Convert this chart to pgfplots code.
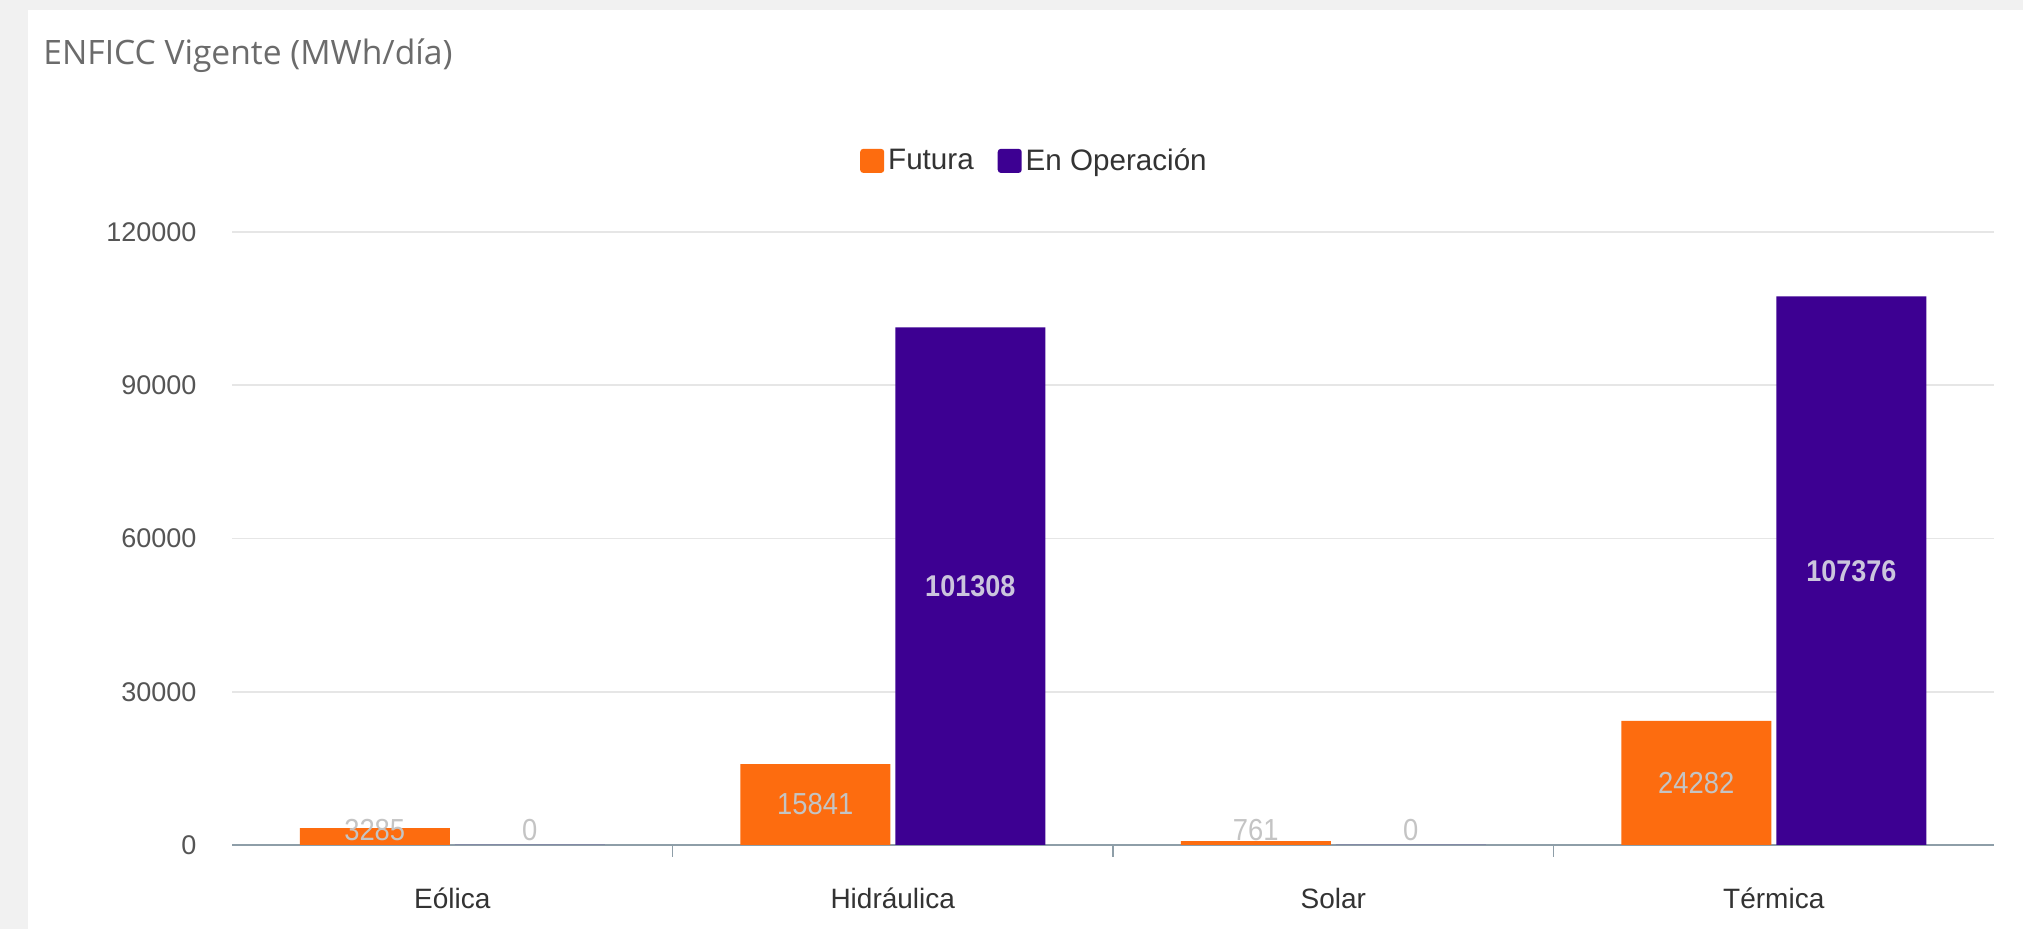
\documentclass[border=0pt]{standalone}
\usepackage{fontspec}
\setmainfont{Liberation Sans}
\newfontfamily\titlefont{Open Sans}
\newfontfamily\narrowfont[FakeStretch=0.9]{Liberation Sans}
\usepackage{pgfplots}
\pgfplotsset{compat=1.18}
\definecolor{bgc}{HTML}{F1F1F1}
\definecolor{orangeF}{HTML}{FD6C0F}
\definecolor{purpleO}{HTML}{3D0092}
\definecolor{gridc}{HTML}{E6E6E6}
\definecolor{axisc}{HTML}{8E9EA8}
\definecolor{labc}{HTML}{C4C4C4}
\definecolor{labp}{HTML}{CBC5DD}
\definecolor{txtc}{HTML}{333333}
\definecolor{tickc}{HTML}{555555}
\begin{document}
\begin{tikzpicture}
\fill[bgc] (0,0) rectangle (1011.5pt,464.5pt);
\fill[white] (14pt,0) rectangle (1011.5pt,459.5pt);
\node[anchor=west, inner sep=0pt, text=black!58, font=\titlefont\fontsize{16.8}{19}\selectfont] at (21.5pt,436.5pt) {ENFICC Vigente (MWh/día)};
\begin{axis}[
  at={(116pt,42pt)}, anchor=south west,
  scale only axis, width=881pt, height=306.5pt,
  xmin=-0.5, xmax=3.5, ymin=0, ymax=120000,
  xtick={0,1,2,3},
  xticklabels={Eólica,Hidráulica,Solar,Térmica},
  ytick={0,30000,60000,90000,120000},
  yticklabels={0,30000,60000,90000,120000},
  scaled y ticks=false,
  axis x line*=bottom, axis y line*=left,
  y axis line style={draw=none},
  x axis line style={-, draw=axisc, line width=1pt},
  xtick style={draw=none}, ytick style={draw=none},
  tick align=outside,
  extra x ticks={0.5,1.5,2.5},
  extra x tick labels={,,},
  extra x tick style={xtick style={draw=axisc, line width=0.8pt}, major tick length=6pt},
  ymajorgrids,
  major grid style={draw=gridc, line width=0.8pt},
  xticklabel style={anchor=center, yshift=-22.5pt, text=txtc, font=\fontsize{14}{16}\selectfont},
  yticklabel style={text=tickc, font=\fontsize{13.5}{16}\selectfont, xshift=-10pt},
  legend style={at={(axis description cs:0.456,1.116)}, anchor=center, draw=none, fill=none,
    font=\fontsize{14.8}{17}\selectfont, text=txtc,
    /tikz/every even column/.append style={column sep=10pt}},
  legend columns=2,
  legend image code/.code={\fill[#1, rounded corners=1.5pt] (0pt,-6pt) rectangle (12pt,6pt);},
]
\addplot[ybar, bar width=75pt, bar shift=-38.75pt, fill=orangeF, draw=none]
  coordinates {(0,3285) (1,15841) (2,761) (3,24282)};
\addlegendentry{Futura}
\addplot[ybar, bar width=75pt, bar shift=38.75pt, fill=purpleO, draw=none]
  coordinates {(0,0) (1,101308) (2,0) (3,107376)};
\addlegendentry{En Operación}
% value labels (centre of each bar, minimum height for short bars)
\addplot[forget plot, draw=none, mark=none, nodes near coords, point meta=explicit symbolic,
  every node near coord/.append style={anchor=center, text=labc, font=\narrowfont\fontsize{15.2}{17}\selectfont}]
  coordinates {(-0.176,2900)[3285] (0.824,7920)[15841] (1.824,2900)[761] (2.824,12141)[24282]
               (0.176,2900)[0] (2.176,2900)[0]};
\addplot[forget plot, draw=none, mark=none, nodes near coords, point meta=explicit symbolic,
  every node near coord/.append style={anchor=center, text=labp, font=\narrowfont\bfseries\fontsize{15}{17}\selectfont}]
  coordinates {(1.176,50654)[101308] (3.176,53688)[107376]};
\end{axis}
\end{tikzpicture}
\end{document}
